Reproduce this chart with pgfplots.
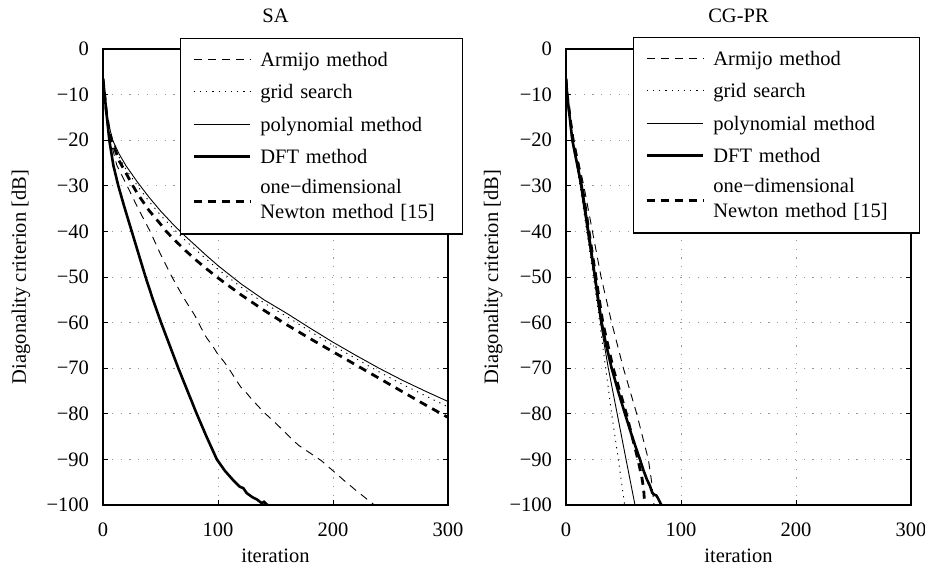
\documentclass[border=0pt]{standalone}
\usepackage{pgfplots}
\pgfplotsset{compat=1.18}
\usepackage{fontspec}
\setmainfont{Liberation Serif}

\newcommand\ff{\fontsize{20.5bp}{24.6bp}\selectfont}
% strut for the one-line legend entries
\newcommand\ls{\rule[-5.5bp]{0pt}{25bp}}

\pgfplotsset{
  panel/.style={
    scale only axis, width=345bp, height=456bp,
    font=\ff,
    xmin=0, xmax=300, ymin=-100, ymax=0,
    xtick={0,100,200,300}, xticklabels={0,100,200,300},
    ytick={0,-10,-20,-30,-40,-50,-60,-70,-80,-90,-100},
    yticklabels={0,−10,−20,−30,−40,−50,−60,−70,−80,−90,−100},
    xticklabel style={font=\ff, yshift=-11bp},
    yticklabel style={font=\ff, xshift=-7bp},
    tick align=inside, major tick length=5bp,
    tick style={black, line width=0.8bp},
    axis line style={line width=1.3bp},
    grid=major, grid style={gray!80, line width=0.9bp, dash pattern=on 1.2bp off 7.6bp},
    xlabel={iteration}, ylabel={Diagonality criterion [dB]},
    every axis title/.style={at={(0.5,1)}, anchor=base, yshift=26bp, font=\ff},
    every axis x label/.style={at={(0.5,0)}, anchor=base, yshift=-57bp, font=\ff},
    legend image code/.code={\draw[##1] (0bp,0bp) -- (56.3bp,0bp);},
    legend style={anchor=north west, inner xsep=11.7bp, inner ysep=8.3bp,
      row sep=7.4bp, column sep=9bp, line width=1.2bp, draw=black, fill=white,
      font=\ff, cells={anchor=center}},
  },
  armijo/.style={black, line width=0.9bp, dash pattern=on 8bp off 6bp},
  gridsearch/.style={black, line width=0.9bp, dash pattern=on 1.2bp off 5bp},
  poly/.style={black, line width=0.9bp},
  dft/.style={black, line width=2.6bp},
  newton/.style={black, line width=2.8bp, dash pattern=on 8bp off 6bp},
}

\begin{document}
\ff
\begin{tikzpicture}
\useasboundingbox (-103bp,-66bp) rectangle (822bp,505bp);

% ---------------- SA ----------------
\begin{axis}[panel, at={(0bp,0bp)}, anchor=south west, title={SA},
  every axis y label/.style={at={([xshift=-77bp]rel axis cs:0,0.5)}, rotate=90, anchor=base, font=\ff},
  legend style={at={(0.2232,1.0241)}, nodes={inner sep=0pt, text depth=, text width=190bp, align=left, font=\ff}},
]
\addplot[armijo] coordinates {(0,-6.5) (1.4,-10) (3,-14) (6.5,-20) (12,-25.5) (21,-30) (30,-34.7) (41,-40) (50,-45) (60,-50) (70,-54.5) (80,-58.5) (85,-61) (90,-63.3) (95,-65) (100,-67) (105,-68.5) (110,-70.3) (115,-72.3) (120,-74.2) (125,-75.5) (130,-77) (140,-79.7) (150,-82) (160,-84.5) (170,-86.9) (180,-88.6) (190,-90.3) (200,-92.5) (210,-94.7) (220,-96.8) (230,-98.8) (236,-100)};
\addlegendentry{Armijo method\ls}
\addplot[gridsearch] coordinates {(0,-6.5) (1.4,-10) (3,-13.8) (5,-16.8) (8,-20) (14,-23.7) (20,-26.4) (30,-30) (40,-33.4) (50,-36.4) (60,-39.1) (70,-41.6) (80,-43.9) (90,-46.1) (100,-48.3) (120,-52.2) (140,-55.7) (160,-58.7) (180,-61.9) (200,-65) (220,-67.9) (240,-70.8) (260,-73.5) (280,-76) (300,-78.5)};
\addlegendentry{grid search\ls}
\addplot[poly] coordinates {(0,-6.5) (1.4,-10) (3,-13.5) (5,-16.5) (8.4,-20) (14,-23) (20,-25.6) (30,-29.2) (40,-32.5) (50,-35.5) (60,-38.2) (70,-40.7) (80,-43) (90,-45.3) (100,-47.5) (120,-51.5) (140,-55) (160,-58) (180,-61.2) (200,-64.3) (220,-67.2) (240,-70) (260,-72.6) (280,-75) (300,-77.3)};
\addlegendentry{polynomial method\ls}
\addplot[dft] coordinates {(0,-6.5) (1.4,-10) (3,-14) (5.5,-20) (9,-25.5) (13.3,-30) (19,-35) (25,-40) (31,-45) (37,-50) (43.5,-55) (50.5,-60) (58,-65) (65.5,-70) (73.5,-75) (81.5,-80) (90,-85) (99,-90) (106,-92.5) (113,-94.5) (119,-96) (122,-96.3) (125,-97.4) (130,-98.3) (134,-98.8) (138,-99.6) (140,-99.3) (143,-100)};
\addlegendentry{DFT method\ls}
\addplot[newton] coordinates {(0,-6.5) (1.4,-10) (3,-14) (5,-17.3) (7.5,-20) (14,-24.5) (20,-27.2) (26,-30) (30.7,-32) (40,-35.4) (50,-38.4) (55,-40) (60,-41.3) (70,-43.8) (80,-46.1) (90,-48.2) (100,-50.2) (120,-53.9) (140,-57.3) (160,-60.5) (180,-63.5) (200,-66.4) (220,-69.3) (240,-72.2) (260,-75.1) (280,-78) (300,-80.8)};
\addlegendentry{\begin{tabular}{@{}l@{}}one−dimensional\\Newton method [15]\end{tabular}}
\end{axis}

% ---------------- CG-PR ----------------
\begin{axis}[panel, at={(463bp,0bp)}, anchor=south west, title={CG-PR},
  every axis y label/.style={at={([xshift=-68bp]rel axis cs:0,0.5)}, rotate=90, anchor=base, font=\ff},
  legend style={at={(0.1942,1.0263)}, nodes={inner sep=0pt, text depth=, text width=194bp, align=left, font=\ff}},
]
\addplot[armijo] coordinates {(0,-6.5) (1.2,-10) (7,-20) (15.5,-30) (23,-40) (30.5,-50) (39.7,-60) (49.9,-70) (61.5,-80) (71.6,-90) (74.5,-95) (76.5,-100)};
\addlegendentry{Armijo method\ls}
\addplot[gridsearch] coordinates {(0,-6.5) (1,-10) (5.3,-20) (12.2,-30) (18,-40) (23.8,-50) (29.3,-60) (34.5,-70) (39.7,-80) (45.5,-90) (51,-100)};
\addlegendentry{grid search\ls}
\addplot[poly] coordinates {(0,-6.5) (1,-10) (5.5,-20) (12.5,-30) (18.5,-40) (24.5,-50) (30,-60) (36.8,-70) (44.5,-80) (52.2,-90) (60,-100)};
\addlegendentry{polynomial method\ls}
\addplot[dft] coordinates {(0,-6.5) (1,-10) (5.5,-20) (9.5,-25) (13.6,-30) (19.4,-40) (25.2,-50) (31,-60) (35,-65) (39.7,-70) (45.3,-75) (51.3,-80) (57.5,-85) (64.3,-90) (67.5,-92.5) (70.5,-94.5) (73,-95.8) (75,-97.3) (76.5,-97.7) (78.5,-97.9) (80,-98.5) (81.5,-99.3) (83,-100)};
\addlegendentry{DFT method\ls}
\addplot[newton] coordinates {(0,-6.5) (1,-10) (6,-20) (14,-30) (20,-40) (26,-50) (32,-60) (41,-70) (52.5,-80) (62.5,-90) (66,-94) (67.5,-96.5) (68.5,-100)};
\addlegendentry{\begin{tabular}{@{}l@{}}one−dimensional\\Newton method [15]\end{tabular}}
\end{axis}
\end{tikzpicture}
\end{document}
